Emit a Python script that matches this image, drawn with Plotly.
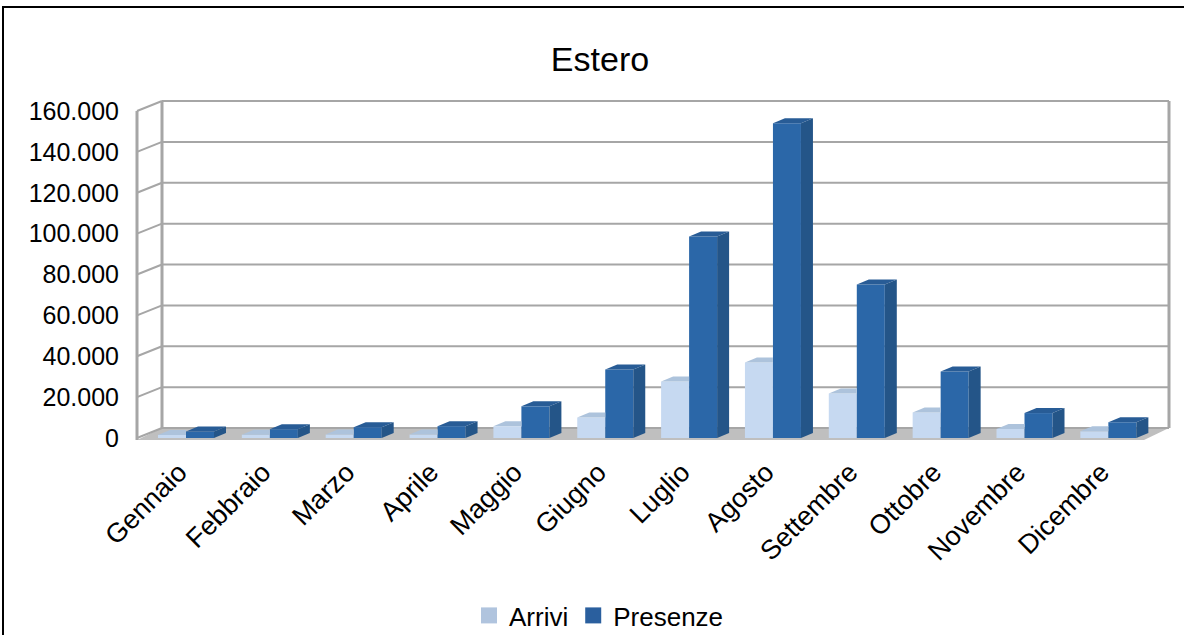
import plotly.graph_objects as go

months = ["Gennaio", "Febbraio", "Marzo", "Aprile", "Maggio", "Giugno", "Luglio",
          "Agosto", "Settembre", "Ottobre", "Novembre", "Dicembre"]
arrivi = [1500, 1600, 1700, 1700, 5700, 10000, 27600, 37000, 21800, 12500, 4400, 3300]
presenze = [3200, 4300, 5300, 5800, 15500, 33500, 98600, 154000, 75100, 32500, 12200, 7700]
y_ticks = [0, 20000, 40000, 60000, 80000, 100000, 120000, 140000, 160000]

# pixel geometry of the frame
L, R, T, B = 130, 1175, 95, 445
PX_X = 83.85
ZERO_X = 186
ZERO_Y = 438
PX_Y = 160000 / 327
xr = [(L - ZERO_X) / PX_X, (R - ZERO_X) / PX_X]
yr = [(ZERO_Y - B) * PX_Y, (ZERO_Y - T) * PX_Y]
BW = 28 / PX_X
BDX, BDY = 12 / PX_X, 5 * PX_Y
WDX, WDY = 25 / PX_X, 10 * PX_Y
FL = (137 - ZERO_X) / PX_X
FR = (1144 - ZERO_X) / PX_X
FLOOR = -2 * PX_Y
LABEL_SHIFT = -7 / PX_X
GRID = "#A6A6A6"

def seg(x0, y0, x1, y1, w=2, color=GRID):
    return dict(type="line", layer="below", xref="x", yref="y", x0=x0, y0=y0, x1=x1, y1=y1,
                line=dict(color=color, width=w))

shapes = []
# floor
shapes.append(dict(type="path", layer="below", xref="x", yref="y",
                   path=f"M{FL},{FLOOR} L{FR},{FLOOR} L{FR+WDX},{WDY} L{FL+WDX},{WDY} Z",
                   fillcolor="#BFBFBF", line=dict(width=0)))
for v in y_ticks:
    shapes.append(seg(FL + WDX, v + WDY, FR + WDX, v + WDY))
    shapes.append(seg(FL, v, FL + WDX, v + WDY))
top = y_ticks[-1]
shapes.append(seg(FL, FLOOR, FL, top, 3))
shapes.append(seg(FL + WDX, WDY, FL + WDX, top + WDY, 3))
shapes.append(seg(FR + WDX, WDY, FR + WDX, top + WDY, 3))
# outer border
shapes.append(dict(type="rect", layer="above", xref="paper", yref="paper",
                   x0=(3 - L) / (R - L), x1=(1195 - L) / (R - L),
                   y0=(B - 650) / (B - T), y1=(B - 7) / (B - T),
                   line=dict(color="black", width=2), fillcolor="rgba(0,0,0,0)"))

fig = go.Figure()
idx = list(range(len(months)))
fig.add_trace(go.Bar(x=idx, y=arrivi, offset=-BW, width=BW, marker=dict(color="#C6D9F1", line=dict(width=0)),
                     showlegend=False, name="Arrivi"))
fig.add_trace(go.Bar(x=idx, y=presenze, offset=0, width=BW, marker=dict(color="#2B67A8", line=dict(width=0)),
                     showlegend=False, name="Presenze"))

def face(xs, ys, color):
    fig.add_trace(go.Scatter(x=xs, y=ys, mode="lines", fill="toself", fillcolor=color,
                             line=dict(width=0), hoverinfo="skip", showlegend=False))

for i in idx:
    a, p = arrivi[i], presenze[i]
    # arrivi top, clipped by the presenze bar
    face([i - BW, i - BW + BDX, i, i, i - BW], [a, a + BDY, a + BDY, a, a], "#ADC3DC")
    # presenze top and side
    face([i, i + BDX, i + BW + BDX, i + BW, i], [p, p + BDY, p + BDY, p, p], "#285C96")
    face([i + BW, i + BW + BDX, i + BW + BDX, i + BW, i + BW], [p, p + BDY, BDY, 0, p], "#245588")

for name, col in (("Arrivi", "#B0C4DE"), ("Presenze", "#2A5F9E")):
    fig.add_trace(go.Scatter(x=[None], y=[None], mode="markers", name=name,
                             marker=dict(symbol="square", size=16, color=col)))

fig.update_layout(
    width=1184, height=635, autosize=False,
    margin=dict(l=L, r=1184 - R, t=T, b=635 - B, pad=0),
    paper_bgcolor="white", plot_bgcolor="white",
    separators=",.",
    font=dict(family="Liberation Sans, Arial, sans-serif", color="black", size=25),
    title=dict(text="Estero", x=600 / 1184, xref="container", xanchor="center",
               y=1 - 59 / 635, yref="container", yanchor="middle",
               font=dict(size=34)),
    showlegend=True,
    legend=dict(orientation="h", xref="container", yref="container",
                x=469 / 1184, xanchor="left",
                y=1 - 592 / 635, yanchor="top",
                font=dict(size=26), bgcolor="rgba(0,0,0,0)"),
    barmode="overlay",
    shapes=shapes,
    xaxis=dict(range=xr, tickmode="array", tickvals=[i + LABEL_SHIFT for i in idx], ticktext=months,
               tickangle=-45, tickfont=dict(size=27), ticklabelstandoff=5,
               showgrid=False, zeroline=False, showline=False, ticks="", fixedrange=True),
    yaxis=dict(range=yr, tickmode="array", tickvals=y_ticks, tickformat=",d",
               showgrid=False, zeroline=False, showline=False, ticks="",
               ticklabelstandoff=10, fixedrange=True),
)
fig.write_html("out.html", config=dict(displayModeBar=False), post_script="document.body.style.margin='0';")
